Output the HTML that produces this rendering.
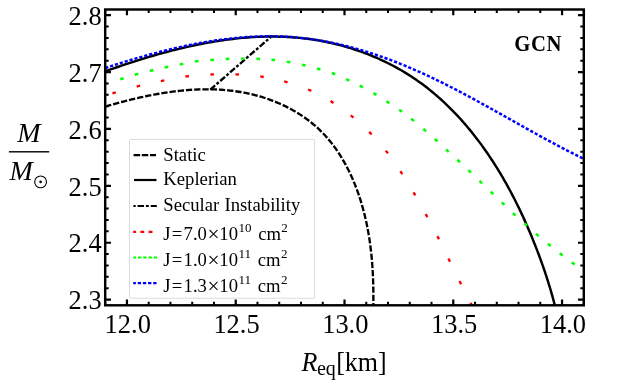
<!DOCTYPE html>
<html><head><meta charset="utf-8"><title>GCN</title>
<style>
html,body{margin:0;padding:0;background:#fff;}
body{width:623px;height:388px;overflow:hidden;position:relative;font-family:"Liberation Serif",serif;}
</style></head><body>
<svg width="623" height="388" viewBox="0 0 623 388" style="position:absolute;left:0;top:0;will-change:transform">
<defs><clipPath id="c"><rect x="105.20" y="9.50" width="478.60" height="295.80"/></clipPath></defs>
<g clip-path="url(#c)" fill="none">
<path d="M105.20,106.60 L106.82,106.12 L108.44,105.65 L110.07,105.18 L111.71,104.72 L113.35,104.25 L114.99,103.80 L116.63,103.34 L118.29,102.89 L119.94,102.44 L121.60,102.00 L123.26,101.56 L124.93,101.13 L126.60,100.70 L128.28,100.28 L129.95,99.86 L131.64,99.45 L133.32,99.04 L135.01,98.64 L136.70,98.24 L138.40,97.85 L140.09,97.47 L141.79,97.10 L143.50,96.73 L145.20,96.36 L146.91,96.01 L148.62,95.66 L150.34,95.32 L152.05,94.98 L153.77,94.66 L155.49,94.34 L157.21,94.03 L158.94,93.73 L160.66,93.43 L162.39,93.15 L164.12,92.87 L165.85,92.60 L167.59,92.34 L169.32,92.10 L171.06,91.86 L172.79,91.63 L174.53,91.41 L176.27,91.20 L178.01,91.00 L179.75,90.81 L181.49,90.63 L183.24,90.46 L184.98,90.30 L186.72,90.15 L188.47,90.02 L190.21,89.89 L191.96,89.78 L193.70,89.68 L195.44,89.59 L197.19,89.51 L198.93,89.45 L200.68,89.39 L202.42,89.35 L204.16,89.33 L205.91,89.31 L207.65,89.31 L209.39,89.32 L211.13,89.35 L212.87,89.39 L214.61,89.44 L216.35,89.51 L218.08,89.59 L219.82,89.68 L221.55,89.79 L223.28,89.92 L225.01,90.06 L226.74,90.21 L228.47,90.38 L230.19,90.57 L231.92,90.77 L233.64,90.98 L235.36,91.22 L237.07,91.47 L238.79,91.73 L240.50,92.01 L242.21,92.31 L243.92,92.62 L245.62,92.95 L247.32,93.30 L249.02,93.67 L250.72,94.05 L252.41,94.45 L254.10,94.87 L255.78,95.31 L257.47,95.76 L259.14,96.23 L260.82,96.72 L262.48,97.23 L264.14,97.75 L265.80,98.29 L267.45,98.85 L269.09,99.43 L270.73,100.02 L272.36,100.63 L273.99,101.26 L275.60,101.91 L277.21,102.57 L278.81,103.25 L280.40,103.95 L281.99,104.67 L283.56,105.40 L285.13,106.15 L286.68,106.92 L288.23,107.71 L289.76,108.51 L291.29,109.33 L292.80,110.17 L294.31,111.02 L295.80,111.90 L297.28,112.79 L298.75,113.70 L300.20,114.62 L301.65,115.57 L303.08,116.53 L304.49,117.50 L305.90,118.50 L307.29,119.51 L308.66,120.54 L310.02,121.59 L311.37,122.66 L312.70,123.74 L314.02,124.84 L315.32,125.95 L316.60,127.09 L317.87,128.24 L319.12,129.41 L320.35,130.60 L321.57,131.80 L322.77,133.02 L323.95,134.26 L325.12,135.51 L326.27,136.78 L327.40,138.07 L328.52,139.37 L329.62,140.69 L330.70,142.02 L331.77,143.36 L332.82,144.72 L333.86,146.10 L334.88,147.48 L335.88,148.89 L336.87,150.30 L337.84,151.73 L338.79,153.17 L339.73,154.62 L340.66,156.08 L341.57,157.56 L342.46,159.04 L343.34,160.54 L344.20,162.05 L345.05,163.56 L345.89,165.09 L346.71,166.63 L347.51,168.18 L348.30,169.73 L349.07,171.30 L349.84,172.87 L350.58,174.46 L351.31,176.04 L352.03,177.64 L352.74,179.25 L353.42,180.86 L354.10,182.48 L354.76,184.10 L355.41,185.73 L356.05,187.37 L356.67,189.01 L357.27,190.66 L357.87,192.31 L358.45,193.97 L359.02,195.63 L359.57,197.30 L360.11,198.97 L360.64,200.64 L361.16,202.32 L361.66,204.00 L362.15,205.68 L362.63,207.36 L363.10,209.05 L363.55,210.73 L363.99,212.42 L364.42,214.11 L364.84,215.81 L365.24,217.50 L365.64,219.20 L366.02,220.90 L366.39,222.60 L366.75,224.30 L367.10,226.01 L367.43,227.71 L367.76,229.42 L368.08,231.13 L368.38,232.84 L368.68,234.55 L368.96,236.26 L369.24,237.98 L369.50,239.69 L369.75,241.41 L370.00,243.13 L370.23,244.84 L370.46,246.56 L370.67,248.28 L370.88,250.01 L371.07,251.73 L371.26,253.45 L371.44,255.18 L371.61,256.90 L371.77,258.63 L371.92,260.35 L372.07,262.08 L372.20,263.81 L372.33,265.53 L372.45,267.26 L372.56,268.99 L372.67,270.72 L372.76,272.45 L372.85,274.18 L372.93,275.91 L373.01,277.64 L373.07,279.37 L373.13,281.10 L373.19,282.83 L373.23,284.56 L373.27,286.29 L373.30,288.02 L373.33,289.75 L373.35,291.48 L373.36,293.21 L373.37,294.94 L373.37,296.67 L373.37,298.39 L373.36,300.12 L373.35,301.85 L373.33,303.57 L373.30,305.30" stroke="#000" stroke-width="2.35" stroke-dasharray="6.3 1.95" stroke-dashoffset="0"/>
<path d="M210.30,89.60 L271.00,36.80" stroke="#000" stroke-width="2.35" stroke-dasharray="6.4 1.9 2.9 1.9" stroke-dashoffset="0"/>
<path d="M105.20,71.30 L107.50,70.49 L109.81,69.67 L112.13,68.87 L114.45,68.06 L116.78,67.26 L119.11,66.47 L121.44,65.68 L123.78,64.90 L126.13,64.12 L128.48,63.35 L130.83,62.58 L133.19,61.82 L135.56,61.06 L137.93,60.32 L140.30,59.57 L142.68,58.84 L145.06,58.11 L147.44,57.40 L149.83,56.68 L152.23,55.98 L154.62,55.29 L157.02,54.60 L159.43,53.92 L161.84,53.26 L164.25,52.60 L166.66,51.95 L169.08,51.31 L171.50,50.68 L173.93,50.06 L176.35,49.45 L178.78,48.85 L181.22,48.27 L183.65,47.69 L186.09,47.13 L188.53,46.57 L190.97,46.03 L193.42,45.51 L195.87,44.99 L198.32,44.49 L200.77,44.00 L203.23,43.52 L205.68,43.06 L208.14,42.61 L210.60,42.18 L213.06,41.75 L215.53,41.35 L217.99,40.96 L220.46,40.58 L222.92,40.22 L225.39,39.87 L227.86,39.54 L230.33,39.23 L232.81,38.93 L235.28,38.65 L237.75,38.38 L240.23,38.13 L242.70,37.90 L245.18,37.69 L247.65,37.49 L250.13,37.31 L252.60,37.15 L255.08,37.01 L257.56,36.89 L260.03,36.78 L262.51,36.70 L264.99,36.63 L267.46,36.59 L269.94,36.56 L272.41,36.55 L274.89,36.57 L277.36,36.60 L279.84,36.66 L282.31,36.73 L284.78,36.83 L287.25,36.95 L289.72,37.09 L292.19,37.26 L294.66,37.44 L297.12,37.65 L299.59,37.88 L302.05,38.14 L304.51,38.41 L306.97,38.71 L309.43,39.04 L311.89,39.39 L314.34,39.76 L316.79,40.16 L319.24,40.58 L321.69,41.02 L324.13,41.49 L326.57,41.98 L329.00,42.50 L331.43,43.04 L333.86,43.60 L336.28,44.19 L338.70,44.80 L341.11,45.43 L343.51,46.09 L345.91,46.77 L348.30,47.48 L350.68,48.20 L353.06,48.96 L355.43,49.73 L357.79,50.53 L360.15,51.35 L362.49,52.19 L364.83,53.06 L367.16,53.95 L369.48,54.87 L371.79,55.80 L374.09,56.76 L376.38,57.74 L378.66,58.75 L380.93,59.78 L383.18,60.83 L385.43,61.90 L387.66,63.00 L389.88,64.12 L392.09,65.26 L394.29,66.43 L396.47,67.61 L398.64,68.82 L400.80,70.05 L402.94,71.31 L405.07,72.59 L407.18,73.89 L409.28,75.21 L411.37,76.55 L413.43,77.92 L415.49,79.30 L417.52,80.71 L419.54,82.15 L421.55,83.60 L423.54,85.07 L425.51,86.57 L427.47,88.09 L429.41,89.62 L431.33,91.18 L433.24,92.75 L435.14,94.35 L437.02,95.96 L438.88,97.59 L440.73,99.25 L442.56,100.92 L444.38,102.60 L446.18,104.31 L447.96,106.03 L449.73,107.77 L451.49,109.52 L453.23,111.30 L454.95,113.08 L456.66,114.89 L458.36,116.71 L460.04,118.54 L461.70,120.39 L463.35,122.25 L464.99,124.13 L466.61,126.02 L468.22,127.93 L469.81,129.85 L471.38,131.78 L472.94,133.73 L474.49,135.68 L476.02,137.65 L477.54,139.63 L479.04,141.63 L480.53,143.63 L482.00,145.64 L483.46,147.67 L484.91,149.71 L486.34,151.75 L487.76,153.81 L489.16,155.87 L490.55,157.95 L491.92,160.03 L493.28,162.12 L494.63,164.22 L495.96,166.33 L497.28,168.45 L498.58,170.57 L499.87,172.70 L501.15,174.84 L502.41,176.98 L503.66,179.13 L504.89,181.29 L506.12,183.45 L507.33,185.62 L508.52,187.80 L509.71,189.98 L510.88,192.17 L512.03,194.36 L513.18,196.56 L514.31,198.77 L515.44,200.98 L516.54,203.19 L517.64,205.42 L518.73,207.64 L519.80,209.88 L520.87,212.12 L521.92,214.36 L522.96,216.61 L523.99,218.87 L525.01,221.12 L526.02,223.39 L527.02,225.66 L528.00,227.93 L528.98,230.21 L529.95,232.49 L530.91,234.78 L531.85,237.07 L532.79,239.37 L533.72,241.67 L534.64,243.97 L535.55,246.28 L536.45,248.59 L537.35,250.91 L538.23,253.23 L539.10,255.55 L539.96,257.88 L540.82,260.22 L541.66,262.55 L542.49,264.89 L543.31,267.24 L544.12,269.58 L544.92,271.94 L545.71,274.29 L546.48,276.65 L547.25,279.02 L548.00,281.39 L548.74,283.76 L549.46,286.14 L550.18,288.52 L550.88,290.90 L551.57,293.29 L552.24,295.69 L552.90,298.08 L553.55,300.48 L554.18,302.89 L554.80,305.30" stroke="#000" stroke-width="2.45"/>
<g fill="#00ff00"><rect x="103.40" y="82.15" width="3.60" height="2.50" transform="rotate(-15.7 105.20 83.40)"/><rect x="120.10" y="77.45" width="3.60" height="2.50" transform="rotate(-16.2 121.90 78.70)"/><rect x="134.80" y="73.05" width="3.60" height="2.50" transform="rotate(-15.5 136.60 74.30)"/><rect x="149.70" y="69.25" width="3.60" height="2.50" transform="rotate(-13.4 151.50 70.50)"/><rect x="164.70" y="65.95" width="3.60" height="2.50" transform="rotate(-11.9 166.50 67.20)"/><rect x="179.70" y="62.95" width="3.60" height="2.50" transform="rotate(-11.0 181.50 64.20)"/><rect x="195.00" y="60.05" width="3.60" height="2.50" transform="rotate(-8.2 196.80 61.30)"/><rect x="210.40" y="58.55" width="3.60" height="2.50" transform="rotate(-4.5 212.20 59.80)"/><rect x="225.70" y="57.65" width="3.60" height="2.50" transform="rotate(-2.1 227.50 58.90)"/><rect x="241.00" y="57.45" width="3.60" height="2.50" transform="rotate(0.0 242.80 58.70)"/><rect x="256.40" y="57.65" width="3.60" height="2.50" transform="rotate(2.3 258.20 58.90)"/><rect x="271.50" y="58.65" width="3.60" height="2.50" transform="rotate(5.8 273.30 59.90)"/><rect x="286.70" y="60.75" width="3.60" height="2.50" transform="rotate(9.7 288.50 62.00)"/><rect x="302.00" y="63.85" width="3.60" height="2.50" transform="rotate(13.1 303.80 65.10)"/><rect x="316.90" y="67.75" width="3.60" height="2.50" transform="rotate(16.0 318.70 69.00)"/><rect x="331.70" y="72.35" width="3.60" height="2.50" transform="rotate(20.4 333.50 73.60)"/><rect x="345.90" y="78.55" width="3.60" height="2.50" transform="rotate(24.9 347.70 79.80)"/><rect x="359.50" y="85.25" width="3.60" height="2.50" transform="rotate(27.5 361.30 86.50)"/><rect x="373.20" y="92.75" width="3.60" height="2.50" transform="rotate(30.6 375.00 94.00)"/><rect x="386.10" y="100.95" width="3.60" height="2.50" transform="rotate(33.1 387.90 102.20)"/><rect x="398.80" y="109.45" width="3.60" height="2.50" transform="rotate(35.5 400.60 110.70)"/><rect x="410.80" y="118.55" width="3.60" height="2.50" transform="rotate(38.8 412.60 119.80)"/><rect x="422.90" y="128.85" width="3.60" height="2.50" transform="rotate(41.0 424.70 130.10)"/><rect x="434.30" y="138.95" width="3.60" height="2.50" transform="rotate(42.2 436.10 140.20)"/><rect x="445.60" y="149.45" width="3.60" height="2.50" transform="rotate(42.6 447.40 150.70)"/><rect x="456.90" y="159.75" width="3.60" height="2.50" transform="rotate(42.9 458.70 161.00)"/><rect x="467.90" y="170.15" width="3.60" height="2.50" transform="rotate(43.8 469.70 171.40)"/><rect x="479.00" y="180.95" width="3.60" height="2.50" transform="rotate(44.0 480.80 182.20)"/><rect x="490.20" y="191.65" width="3.60" height="2.50" transform="rotate(43.8 492.00 192.90)"/><rect x="501.30" y="202.35" width="3.60" height="2.50" transform="rotate(43.9 503.10 203.60)"/><rect x="512.40" y="213.05" width="3.60" height="2.50" transform="rotate(42.8 514.20 214.30)"/><rect x="524.00" y="223.35" width="3.60" height="2.50" transform="rotate(41.7 525.80 224.60)"/><rect x="535.50" y="233.65" width="3.60" height="2.50" transform="rotate(40.7 537.30 234.90)"/><rect x="547.50" y="243.55" width="3.60" height="2.50" transform="rotate(39.1 549.30 244.80)"/><rect x="559.40" y="253.05" width="3.60" height="2.50" transform="rotate(37.9 561.20 254.30)"/><rect x="571.40" y="262.15" width="3.60" height="2.50" transform="rotate(37.4 573.20 263.40)"/><rect x="583.20" y="271.25" width="3.60" height="2.50" transform="rotate(37.6 585.00 272.50)"/></g>
<g fill="#ff0000"><rect x="88.25" y="99.33" width="3.50" height="2.35" transform="rotate(-17.7 90.00 100.50)"/><rect x="112.35" y="91.62" width="3.50" height="2.35" transform="rotate(-16.6 114.10 92.80)"/><rect x="136.65" y="84.92" width="3.50" height="2.35" transform="rotate(-14.0 138.40 86.10)"/><rect x="160.85" y="79.53" width="3.50" height="2.35" transform="rotate(-11.4 162.60 80.70)"/><rect x="185.45" y="75.12" width="3.50" height="2.35" transform="rotate(-7.2 187.20 76.30)"/><rect x="210.45" y="73.23" width="3.50" height="2.35" transform="rotate(-2.2 212.20 74.40)"/><rect x="235.45" y="73.23" width="3.50" height="2.35" transform="rotate(2.6 237.20 74.40)"/><rect x="260.25" y="75.53" width="3.50" height="2.35" transform="rotate(8.8 262.00 76.70)"/><rect x="284.15" y="80.73" width="3.50" height="2.35" transform="rotate(15.8 285.90 81.90)"/><rect x="307.95" y="89.03" width="3.50" height="2.35" transform="rotate(23.6 309.70 90.20)"/><rect x="330.25" y="100.83" width="3.50" height="2.35" transform="rotate(31.8 332.00 102.00)"/><rect x="350.35" y="115.33" width="3.50" height="2.35" transform="rotate(39.1 352.10 116.50)"/><rect x="368.65" y="132.02" width="3.50" height="2.35" transform="rotate(45.6 370.40 133.20)"/><rect x="385.15" y="150.82" width="3.50" height="2.35" transform="rotate(51.9 386.90 152.00)"/><rect x="399.55" y="171.42" width="3.50" height="2.35" transform="rotate(56.7 401.30 172.60)"/><rect x="412.65" y="192.62" width="3.50" height="2.35" transform="rotate(59.6 414.40 193.80)"/><rect x="424.75" y="214.42" width="3.50" height="2.35" transform="rotate(61.5 426.50 215.60)"/><rect x="436.45" y="236.52" width="3.50" height="2.35" transform="rotate(63.0 438.20 237.70)"/><rect x="447.45" y="258.93" width="3.50" height="2.35" transform="rotate(63.8 449.20 260.10)"/><rect x="458.55" y="281.43" width="3.50" height="2.35" transform="rotate(63.5 460.30 282.60)"/><rect x="469.55" y="303.22" width="3.50" height="2.35" transform="rotate(62.9 471.30 304.40)"/><rect x="480.25" y="323.82" width="3.50" height="2.35" transform="rotate(62.6 482.00 325.00)"/></g>
<path d="M105.20,68.00 L107.19,67.35 L109.18,66.71 L111.18,66.07 L113.18,65.43 L115.18,64.79 L117.19,64.16 L119.21,63.53 L121.22,62.90 L123.24,62.28 L125.27,61.66 L127.29,61.04 L129.32,60.43 L131.36,59.82 L133.40,59.22 L135.44,58.62 L137.48,58.02 L139.53,57.43 L141.58,56.85 L143.63,56.27 L145.69,55.69 L147.75,55.12 L149.81,54.56 L151.88,54.00 L153.95,53.45 L156.02,52.90 L158.09,52.36 L160.17,51.82 L162.25,51.29 L164.33,50.77 L166.41,50.26 L168.50,49.75 L170.59,49.25 L172.68,48.75 L174.77,48.27 L176.86,47.79 L178.96,47.31 L181.06,46.85 L183.16,46.39 L185.26,45.95 L187.36,45.51 L189.47,45.07 L191.58,44.65 L193.69,44.24 L195.80,43.83 L197.91,43.43 L200.02,43.04 L202.14,42.67 L204.25,42.30 L206.37,41.94 L208.49,41.59 L210.61,41.25 L212.73,40.92 L214.85,40.60 L216.97,40.29 L219.10,39.99 L221.22,39.70 L223.35,39.42 L225.47,39.15 L227.60,38.89 L229.72,38.65 L231.85,38.42 L233.98,38.19 L236.10,37.98 L238.23,37.78 L240.36,37.60 L242.49,37.42 L244.62,37.26 L246.75,37.11 L248.87,36.97 L251.00,36.85 L253.13,36.74 L255.26,36.64 L257.39,36.55 L259.51,36.48 L261.64,36.42 L263.77,36.37 L265.89,36.34 L268.02,36.32 L270.14,36.32 L272.26,36.33 L274.39,36.36 L276.51,36.39 L278.63,36.45 L280.75,36.52 L282.87,36.60 L284.99,36.70 L287.11,36.81 L289.22,36.94 L291.34,37.09 L293.45,37.25 L295.56,37.42 L297.67,37.62 L299.78,37.82 L301.89,38.04 L303.99,38.28 L306.10,38.53 L308.20,38.80 L310.30,39.08 L312.40,39.37 L314.50,39.68 L316.59,40.00 L318.68,40.34 L320.78,40.69 L322.86,41.06 L324.95,41.43 L327.04,41.83 L329.12,42.23 L331.20,42.65 L333.28,43.08 L335.36,43.53 L337.43,43.98 L339.50,44.45 L341.57,44.94 L343.64,45.43 L345.71,45.94 L347.77,46.46 L349.83,46.99 L351.88,47.53 L353.94,48.09 L355.99,48.65 L358.04,49.23 L360.09,49.82 L362.13,50.42 L364.17,51.04 L366.21,51.66 L368.24,52.29 L370.27,52.94 L372.30,53.59 L374.33,54.26 L376.35,54.94 L378.37,55.62 L380.38,56.32 L382.39,57.03 L384.40,57.74 L386.41,58.47 L388.41,59.21 L390.41,59.95 L392.40,60.71 L394.39,61.47 L396.38,62.24 L398.37,63.02 L400.35,63.82 L402.32,64.61 L404.30,65.42 L406.27,66.24 L408.23,67.06 L410.19,67.90 L412.15,68.74 L414.11,69.59 L416.06,70.44 L418.01,71.31 L419.95,72.18 L421.89,73.06 L423.83,73.94 L425.77,74.83 L427.70,75.73 L429.63,76.64 L431.55,77.55 L433.48,78.47 L435.40,79.39 L437.32,80.32 L439.23,81.26 L441.15,82.20 L443.06,83.15 L444.96,84.10 L446.87,85.06 L448.77,86.02 L450.67,86.99 L452.57,87.96 L454.47,88.94 L456.36,89.92 L458.26,90.91 L460.15,91.90 L462.04,92.89 L463.92,93.89 L465.81,94.89 L467.69,95.90 L469.57,96.91 L471.46,97.92 L473.33,98.94 L475.21,99.95 L477.09,100.98 L478.96,102.00 L480.84,103.03 L482.71,104.05 L484.58,105.08 L486.45,106.12 L488.32,107.15 L490.19,108.19 L492.06,109.23 L493.92,110.27 L495.79,111.31 L497.66,112.35 L499.52,113.39 L501.39,114.44 L503.25,115.48 L505.11,116.53 L506.98,117.57 L508.84,118.62 L510.70,119.66 L512.57,120.71 L514.43,121.75 L516.29,122.80 L518.16,123.84 L520.02,124.89 L521.88,125.93 L523.75,126.97 L525.61,128.01 L527.47,129.05 L529.34,130.09 L531.20,131.13 L533.07,132.16 L534.94,133.20 L536.80,134.23 L538.67,135.26 L540.54,136.28 L542.41,137.31 L544.28,138.33 L546.15,139.35 L548.02,140.36 L549.90,141.37 L551.77,142.38 L553.65,143.39 L555.53,144.39 L557.41,145.39 L559.29,146.39 L561.17,147.38 L563.05,148.36 L564.94,149.35 L566.83,150.32 L568.71,151.30 L570.61,152.27 L572.50,153.23 L574.39,154.19 L576.29,155.14 L578.19,156.09 L580.09,157.03 L581.99,157.97 L583.90,158.90" stroke="#0000ff" stroke-width="2.5" stroke-dasharray="3.2 1.9"/>
</g>
<rect x="105.20" y="9.50" width="478.60" height="295.80" fill="none" stroke="#000" stroke-width="2.45"/>
<path d="M105.20,305.30 v-3.50 M105.20,9.50 v3.50 M148.71,305.30 v-3.50 M148.71,9.50 v3.50 M170.46,305.30 v-3.50 M170.46,9.50 v3.50 M192.22,305.30 v-3.50 M192.22,9.50 v3.50 M213.97,305.30 v-3.50 M213.97,9.50 v3.50 M257.48,305.30 v-3.50 M257.48,9.50 v3.50 M279.24,305.30 v-3.50 M279.24,9.50 v3.50 M300.99,305.30 v-3.50 M300.99,9.50 v3.50 M322.75,305.30 v-3.50 M322.75,9.50 v3.50 M366.25,305.30 v-3.50 M366.25,9.50 v3.50 M388.01,305.30 v-3.50 M388.01,9.50 v3.50 M409.76,305.30 v-3.50 M409.76,9.50 v3.50 M431.52,305.30 v-3.50 M431.52,9.50 v3.50 M475.03,305.30 v-3.50 M475.03,9.50 v3.50 M496.78,305.30 v-3.50 M496.78,9.50 v3.50 M518.54,305.30 v-3.50 M518.54,9.50 v3.50 M540.29,305.30 v-3.50 M540.29,9.50 v3.50 M583.80,305.30 v-3.50 M583.80,9.50 v3.50 M105.20,288.23 h3.50 M583.80,288.23 h-3.50 M105.20,276.86 h3.50 M583.80,276.86 h-3.50 M105.20,265.48 h3.50 M583.80,265.48 h-3.50 M105.20,254.10 h3.50 M583.80,254.10 h-3.50 M105.20,231.35 h3.50 M583.80,231.35 h-3.50 M105.20,219.97 h3.50 M583.80,219.97 h-3.50 M105.20,208.60 h3.50 M583.80,208.60 h-3.50 M105.20,197.22 h3.50 M583.80,197.22 h-3.50 M105.20,174.47 h3.50 M583.80,174.47 h-3.50 M105.20,163.09 h3.50 M583.80,163.09 h-3.50 M105.20,151.71 h3.50 M583.80,151.71 h-3.50 M105.20,140.33 h3.50 M583.80,140.33 h-3.50 M105.20,117.58 h3.50 M583.80,117.58 h-3.50 M105.20,106.20 h3.50 M583.80,106.20 h-3.50 M105.20,94.83 h3.50 M583.80,94.83 h-3.50 M105.20,83.45 h3.50 M583.80,83.45 h-3.50 M105.20,60.70 h3.50 M583.80,60.70 h-3.50 M105.20,49.32 h3.50 M583.80,49.32 h-3.50 M105.20,37.94 h3.50 M583.80,37.94 h-3.50 M105.20,26.57 h3.50 M583.80,26.57 h-3.50" stroke="#000" stroke-width="2.0" fill="none"/>
<path d="M126.95,305.30 v-5.80 M126.95,9.50 v5.80 M235.73,305.30 v-5.80 M235.73,9.50 v5.80 M344.50,305.30 v-5.80 M344.50,9.50 v5.80 M453.27,305.30 v-5.80 M453.27,9.50 v5.80 M562.05,305.30 v-5.80 M562.05,9.50 v5.80 M105.20,299.61 h5.80 M583.80,299.61 h-5.80 M105.20,242.73 h5.80 M583.80,242.73 h-5.80 M105.20,185.84 h5.80 M583.80,185.84 h-5.80 M105.20,128.96 h5.80 M583.80,128.96 h-5.80 M105.20,72.07 h5.80 M583.80,72.07 h-5.80 M105.20,15.19 h5.80 M583.80,15.19 h-5.80" stroke="#000" stroke-width="2.2" fill="none"/>
<rect x="129.5" y="139.4" width="185.1" height="158.8" rx="1" fill="#fff" stroke="#dadada" stroke-width="1"/>
<g fill="none" stroke-width="2.2">
<path d="M133.6,155.2 H156" stroke="#000" stroke-dasharray="6.5 1.7"/>
<path d="M134,180 H156.5" stroke="#000"/>
<path d="M133.4,206 H156.8" stroke="#000" stroke-dasharray="2.9 1.9 6.4 1.9" stroke-dashoffset="0.6"/>
<path d="M133.2,231.9 H153" stroke="#ff0000" stroke-dasharray="3.9 4.3" stroke-dashoffset="1"/>
<path d="M133.2,257.5 H157" stroke="#00ff00" stroke-dasharray="3.4 1.85" stroke-dashoffset="0.5"/>
<path d="M133.2,283.2 H156.6" stroke="#0000ff" stroke-dasharray="3.3 1.85" stroke-dashoffset="0.6"/>
</g>
<g font-family="Liberation Serif, serif" fill="#000">
<text transform="translate(101.6,309.31) scale(0.935,1)" font-size="28.3" text-anchor="end">2.3</text>
<text transform="translate(101.6,252.43) scale(0.935,1)" font-size="28.3" text-anchor="end">2.4</text>
<text transform="translate(101.6,195.54) scale(0.935,1)" font-size="28.3" text-anchor="end">2.5</text>
<text transform="translate(101.6,138.66) scale(0.935,1)" font-size="28.3" text-anchor="end">2.6</text>
<text transform="translate(101.6,81.77) scale(0.935,1)" font-size="28.3" text-anchor="end">2.7</text>
<text transform="translate(101.6,24.89) scale(0.935,1)" font-size="28.3" text-anchor="end">2.8</text>
<text transform="translate(127.75,333.3) scale(0.935,1)" font-size="28.3" text-anchor="middle">12.0</text>
<text transform="translate(236.53,333.3) scale(0.935,1)" font-size="28.3" text-anchor="middle">12.5</text>
<text transform="translate(345.30,333.3) scale(0.935,1)" font-size="28.3" text-anchor="middle">13.0</text>
<text transform="translate(454.07,333.3) scale(0.935,1)" font-size="28.3" text-anchor="middle">13.5</text>
<text transform="translate(562.85,333.3) scale(0.935,1)" font-size="28.3" text-anchor="middle">14.0</text>
<text transform="translate(163.3,161.10) scale(0.968,1)" font-size="19.3">Static</text>
<text transform="translate(163.3,184.80) scale(0.968,1)" font-size="19.3">Keplerian</text>
<text transform="translate(163.3,210.50) scale(0.968,1)" font-size="19.3">Secular<tspan dx="0.6"> </tspan>Instability</text>
<text transform="translate(163.3,240.30) scale(0.968,1)" font-size="19.3">J<tspan dx="1.3">=</tspan><tspan dx="1.3">7.0</tspan><tspan font-size="22" dy="1.0" dx="0.6">×</tspan><tspan dy="-1.0" dx="-0.2">10</tspan><tspan dy="-8" dx="0.5" font-size="13.5">10</tspan><tspan dy="8" dx="6.9">cm</tspan><tspan dy="-8" dx="0.3" font-size="13.5">2</tspan></text>
<text transform="translate(163.3,265.90) scale(0.968,1)" font-size="19.3">J<tspan dx="1.3">=</tspan><tspan dx="1.3">1.0</tspan><tspan font-size="22" dy="1.0" dx="0.6">×</tspan><tspan dy="-1.0" dx="-0.2">10</tspan><tspan dy="-8" dx="0.5" font-size="13.5">11</tspan><tspan dy="8" dx="6.9">cm</tspan><tspan dy="-8" dx="0.3" font-size="13.5">2</tspan></text>
<text transform="translate(163.3,291.60) scale(0.968,1)" font-size="19.3">J<tspan dx="1.3">=</tspan><tspan dx="1.3">1.3</tspan><tspan font-size="22" dy="1.0" dx="0.6">×</tspan><tspan dy="-1.0" dx="-0.2">10</tspan><tspan dy="-8" dx="0.5" font-size="13.5">11</tspan><tspan dy="8" dx="6.9">cm</tspan><tspan dy="-8" dx="0.3" font-size="13.5">2</tspan></text>
<text transform="translate(514.3,51.3) scale(0.93,1)" font-size="22.3" font-weight="bold" letter-spacing="0.6">GCN</text>
<text x="29.0" y="142.0" font-size="28" font-style="italic" text-anchor="middle">M</text>
<rect x="8.9" y="151.1" width="40.3" height="1.4"/>
<text x="9.6" y="179.8" font-size="28" font-style="italic">M</text>
<circle cx="40.6" cy="181.9" r="5.9" fill="none" stroke="#000" stroke-width="1.1"/><circle cx="40.6" cy="181.9" r="1.3"/>
<text transform="translate(301.6,370.6) scale(0.945,1)" font-size="27.5" font-style="italic">R</text>
<text transform="translate(316.9,374.8) scale(1,1)" font-size="20">eq</text>
<text transform="translate(336.2,370.6) scale(0.945,1)" font-size="27.5">[km]</text>
</g>
</svg>
</body></html>
